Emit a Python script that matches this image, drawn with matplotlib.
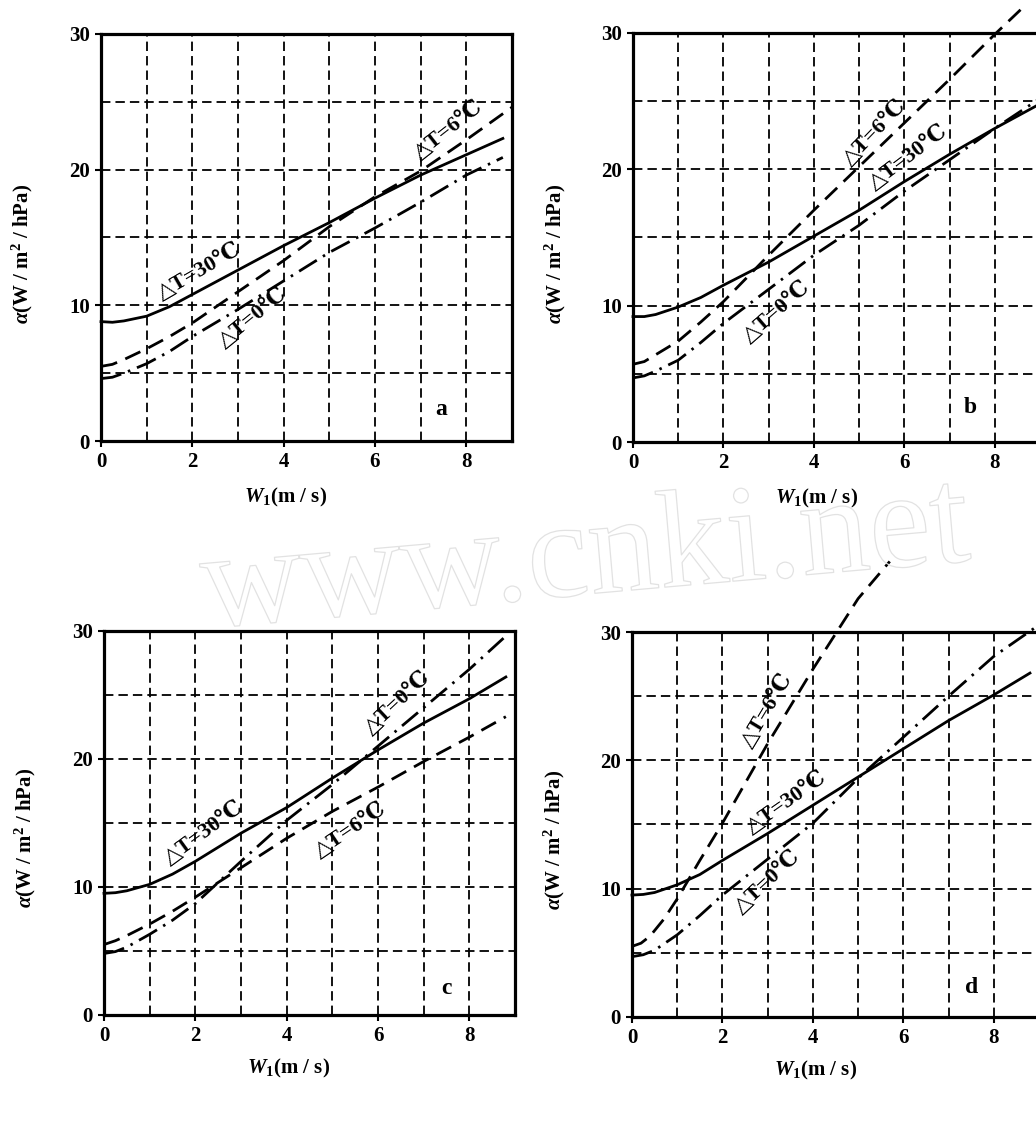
#!/usr/bin/env python3

import matplotlib.pyplot as plt
import matplotlib.patheffects as pe

plt.rcParams['font.family'] = ['Liberation Serif', 'DejaVu Serif', 'DejaVu Sans', 'Noto Sans CJK SC']
plt.rcParams['font.weight'] = 'bold'
plt.rcParams['axes.labelweight'] = 'bold'
plt.rcParams['mathtext.fontset'] = 'custom'
plt.rcParams['mathtext.rm'] = 'Liberation Serif:bold'
plt.rcParams['mathtext.it'] = 'Liberation Serif:italic:bold'
plt.rcParams['mathtext.bf'] = 'Liberation Serif:bold'

# values (x = wind speed m/s, y = alpha)
# panel a
a_x30 = [0, 0.25, 0.5, 1, 1.5, 2, 3, 4, 5, 6, 7, 8, 8.8]
a_t30 = [8.8, 8.75, 8.85, 9.2, 9.9, 10.8, 12.6, 14.4, 16.1, 17.9, 19.6, 21.1, 22.3]
a_x6 = [0, 0.25, 0.5, 1, 1.5, 2, 3, 4, 5, 6, 7, 8, 9]
a_t6 = [5.5, 5.65, 6.0, 6.8, 7.7, 8.7, 11.0, 13.3, 15.8, 18.0, 19.9, 22.2, 24.6]
a_x0 = [0, 0.25, 0.5, 1, 1.5, 2, 3, 4, 5, 6, 7, 8, 8.8]
a_t0 = [4.6, 4.7, 5.0, 5.7, 6.6, 7.7, 9.7, 11.8, 13.9, 15.7, 17.6, 19.6, 20.9]

# panel b
b_x30 = [0, 0.25, 0.5, 1, 1.5, 2, 3, 4, 5, 6, 7, 8, 9]
b_t30 = [9.2, 9.2, 9.35, 9.9, 10.6, 11.5, 13.2, 15.1, 17.0, 19.1, 21.1, 23.0, 24.8]
b_x6 = [0, 0.25, 0.5, 1, 1.5, 2, 3, 4, 5, 6, 7, 8, 8.6]
b_t6 = [5.7, 5.9, 6.4, 7.4, 8.8, 10.3, 13.7, 17.0, 20.2, 23.4, 26.6, 29.9, 31.8]
b_x0 = [0, 0.25, 0.5, 1, 1.5, 2, 3, 4, 5, 6, 7, 8, 9]
b_t0 = [4.7, 4.85, 5.2, 6.0, 7.3, 8.7, 11.2, 13.7, 15.9, 18.4, 20.7, 23.0, 25.2]

# panel c
c_x30 = [0, 0.25, 0.5, 1, 1.5, 2, 3, 4, 5, 6, 7, 8, 8.8]
c_t30 = [9.5, 9.55, 9.7, 10.2, 11.0, 12.0, 14.2, 16.2, 18.5, 20.7, 22.8, 24.7, 26.4]
c_x6 = [0, 0.25, 0.5, 1, 1.5, 2, 3, 4, 5, 6, 7, 8, 8.8]
c_t6 = [5.5, 5.8, 6.2, 7.1, 8.1, 9.2, 11.5, 13.8, 15.9, 17.8, 19.8, 21.7, 23.3]
c_x0 = [0, 0.25, 0.5, 1, 1.5, 2, 3, 4, 5, 6, 7, 8, 8.8]
c_t0 = [4.8, 4.95, 5.3, 6.3, 7.4, 8.7, 12.0, 15.2, 18.0, 21.0, 24.0, 27.0, 29.6]

# panel d
d_x30 = [0, 0.25, 0.5, 1, 1.5, 2, 3, 4, 5, 6, 7, 8, 8.8]
d_t30 = [9.5, 9.55, 9.7, 10.3, 11.1, 12.2, 14.3, 16.5, 18.7, 20.9, 23.1, 25.1, 26.8]
d_x6 = [0, 0.2, 0.4, 0.7, 1, 1.5, 2, 3, 4, 5, 5.7]
d_t6 = [5.5, 5.75, 6.3, 7.6, 9.2, 12.2, 15.1, 21.3, 27.1, 32.6, 35.5]
d_x0 = [0, 0.25, 0.5, 1, 1.5, 2, 3, 4, 5, 6, 7, 8, 9.1]
d_t0 = [4.7, 4.85, 5.2, 6.4, 7.9, 9.5, 12.3, 15.1, 18.6, 21.8, 25.0, 28.1, 30.8]

x_ticks = [0, 2, 4, 6, 8]
y_ticks = [0, 10, 20, 30]
grid_x = [1, 2, 3, 4, 5, 6, 7, 8]
grid_y = [5, 10, 15, 20, 25]

lab30 = '△T=30℃'
lab6 = '△T=6℃'
lab0 = '△T=0℃'

DASHED = (0, (6, 3.2))
DASHDOT = (0, (7.5, 2.6, 0.9, 2.6))
GRID = (0, (5.2, 2.8))


def draw_panel(ax, curves, notes, letter, letter_xy):
    ax.set_facecolor('none')
    for gx in grid_x:
        ax.axvline(gx, color='k', lw=1.3, ls=GRID, zorder=1)
    for gy in grid_y:
        ax.axhline(gy, color='k', lw=1.3, ls=GRID, zorder=1)

    (x30, y30), (x6, y6), (x0, y0) = curves
    ax.plot(x30, y30, color='k', lw=2.0, ls='-', clip_on=False, zorder=3)
    ax.plot(x6, y6, color='k', lw=2.0, ls=DASHED, clip_on=False, zorder=3)
    ax.plot(x0, y0, color='k', lw=2.0, ls=DASHDOT, clip_on=False, zorder=3)

    for text, x, y, rot in notes:
        ax.text(x, y, text, rotation=rot, ha='center', va='center', fontsize=16,
                rotation_mode='anchor', zorder=4)
    ax.text(letter_xy[0], letter_xy[1], letter, ha='center', va='center', fontsize=17)

    ax.set_xlim(0, 9)
    ax.set_ylim(0, 30)
    ax.set_xticks(x_ticks)
    ax.set_yticks(y_ticks)
    ax.tick_params(direction='out', length=4, width=1.5, labelsize=15, pad=4)
    for sp in ax.spines.values():
        sp.set_linewidth(2.3)
    ax.set_xlabel(r'$W_1$(m / s)', fontsize=15)
    ax.set_ylabel(r'$\alpha$(W / m$^2$ / hPa)', fontsize=15)
    ax.xaxis.set_label_coords(0.45, -0.11)
    ax.yaxis.set_label_coords(-0.16, 0.46)


fig = plt.figure(figsize=(10.36, 11.21), dpi=100)
ax_a = fig.add_axes([0.0975, 0.6066, 0.3967, 0.3631])
ax_b = fig.add_axes([0.611, 0.6057, 0.3929, 0.3649])
ax_c = fig.add_axes([0.1004, 0.0946, 0.3967, 0.3426])
ax_d = fig.add_axes([0.610, 0.0928, 0.3929, 0.3434])

draw_panel(ax_a, [(a_x30, a_t30), (a_x6, a_t6), (a_x0, a_t0)],
           [(lab30, 2.16, 12.45, 30), (lab6, 7.6, 22.9, 38), (lab0, 3.32, 9.05, 39)],
           'a', (7.45, 2.3))
draw_panel(ax_b, [(b_x30, b_t30), (b_x6, b_t6), (b_x0, b_t0)],
           [(lab6, 5.35, 22.7, 46), (lab30, 6.08, 20.9, 37), (lab0, 3.18, 9.55, 41)],
           'b', (7.45, 2.5))
draw_panel(ax_c, [(c_x30, c_t30), (c_x6, c_t6), (c_x0, c_t0)],
           [(lab30, 2.18, 14.2, 36), (lab0, 6.44, 24.4, 43), (lab6, 5.4, 14.45, 34)],
           'c', (7.5, 2.1))
draw_panel(ax_d, [(d_x30, d_t30), (d_x6, d_t6), (d_x0, d_t0)],
           [(lab6, 2.99, 23.9, 59), (lab30, 3.43, 16.7, 35), (lab0, 3.0, 10.5, 43)],
           'd', (7.5, 2.3))

# faint cnki watermark across the middle
fig.text(0.565, 0.5, 'www.cnki.net', fontsize=100, fontweight='normal', color='none',
         ha='center', va='center', rotation=5, zorder=0,
         path_effects=[pe.Stroke(linewidth=0.9, foreground='#e2e2e2')])

fig.savefig('out.png', dpi=100)
